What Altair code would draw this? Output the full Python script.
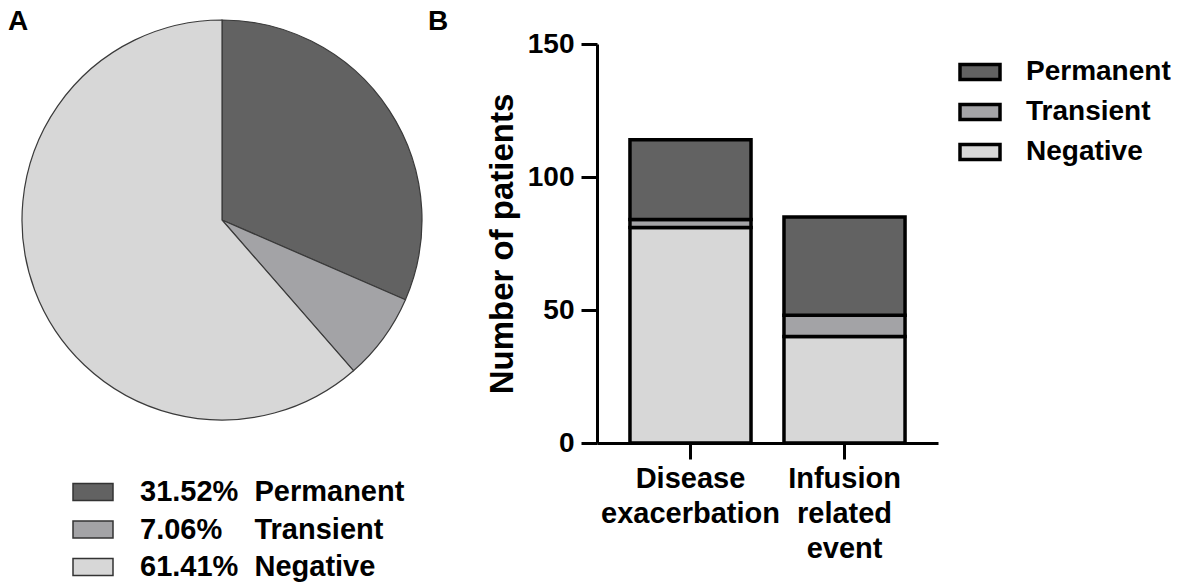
import altair as alt
import pandas as pd

# ---- data ----
pie_status = ["Permanent", "Transient", "Negative"]
pie_percent = [31.52, 7.06, 61.41]
pie_percent_text = ["31.52%", "7.06%", "61.41%"]
pie_gap = ["\u00a0\u00a0", "\u00a0\u00a0\u00a0\u00a0", "\u00a0\u00a0"]

categories = ["Disease exacerbation", "Infusion related event"]
negative = [81, 40]
transient = [3, 8]
permanent = [30, 37]

status_order = ["Permanent", "Transient", "Negative"]
colors = ["#626262", "#a3a3a6", "#d7d7d7"]
FONT = "Liberation Sans"

# ---- pie ----
pie_labels = [p + g + s for p, g, s in zip(pie_percent_text, pie_gap, pie_status)]
pie_df = pd.DataFrame({
    "label": pie_labels,
    "value": pie_percent,
    "ord": list(range(len(pie_status))),
})

pie = alt.Chart(pie_df).mark_arc(radius=200, stroke="#3a3a3a", strokeWidth=1.2).encode(
    theta=alt.Theta("value:Q", stack=True),
    order=alt.Order("ord:Q", sort="ascending"),
    color=alt.Color(
        "label:N",
        scale=alt.Scale(domain=pie_labels, range=colors),
        legend=alt.Legend(
            title=None, orient="none", legendX=64, legendY=427, padding=0,
            labelFontSize=29, labelFontWeight="bold", labelColor="black", labelFont=FONT,
            labelLimit=500, labelOffset=26,
            symbolType="M-1,-0.42L1,-0.42L1,0.42L-1,0.42Z", symbolSize=1600,
            symbolStrokeColor="#333333", symbolStrokeWidth=1.5, symbolOpacity=1,
            rowPadding=1.5,
        ),
    ),
    x=alt.value(214),
    y=alt.value(176),
)

text_a = alt.Chart(pd.DataFrame({"t": ["A"]})).mark_text(
    align="left", baseline="top", fontSize=28, fontWeight="bold", font=FONT, color="black"
).encode(text="t:N", x=alt.value(0), y=alt.value(-36))

pie_layer = alt.layer(pie, text_a).properties(width=428, height=380)

# ---- stacked bars ----
rows = []
for i, c in enumerate(categories):
    rows.append({"category": c, "status": "Negative", "count": negative[i], "so": 0})
    rows.append({"category": c, "status": "Transient", "count": transient[i], "so": 1})
    rows.append({"category": c, "status": "Permanent", "count": permanent[i], "so": 2})
bar_df = pd.DataFrame(rows)

bars = alt.Chart(bar_df).mark_bar(stroke="black", strokeWidth=3.5, strokeJoin="miter").encode(
    x=alt.X(
        "category:N", sort=categories,
        scale=alt.Scale(paddingInner=0.214, paddingOuter=0.214),
        axis=alt.Axis(
            title=None, labelAngle=0, labelExpr="split(datum.label, ' ')",
            labelFontSize=29, labelFontWeight="bold", labelColor="black", labelFont=FONT,
            labelLineHeight=35, labelPadding=5, labelLimit=500,
            tickSize=16, tickWidth=3, tickColor="black",
            domainWidth=3, domainColor="black",
        ),
    ),
    y=alt.Y(
        "count:Q", stack="zero",
        scale=alt.Scale(domain=[0, 150], nice=False),
        axis=alt.Axis(
            title="Number of patients", values=[0, 50, 100, 150], grid=False,
            labelFontSize=28, labelFontWeight="bold", labelColor="black", labelFont=FONT,
            labelPadding=7,
            titleFontSize=33, titleFontWeight="bold", titleColor="black", titleFont=FONT,
            titlePadding=8,
            tickSize=16, tickWidth=3, tickColor="black",
            domainWidth=3, domainColor="black",
        ),
    ),
    color=alt.Color(
        "status:N",
        scale=alt.Scale(domain=status_order, range=colors),
        legend=alt.Legend(
            title=None, orient="none", legendX=361, legendY=6, padding=0,
            labelFontSize=28, labelFontWeight="bold", labelColor="black", labelFont=FONT,
            labelLimit=500, labelOffset=24,
            symbolType="M-1,-0.38L1,-0.38L1,0.38L-1,0.38Z", symbolSize=1600,
            symbolStrokeColor="black", symbolStrokeWidth=3.5, symbolOpacity=1,
            rowPadding=3,
        ),
    ),
    order=alt.Order("so:Q", sort="ascending"),
)

text_b = alt.Chart(pd.DataFrame({"t": ["B"]})).mark_text(
    align="left", baseline="top", fontSize=28, fontWeight="bold", font=FONT, color="black"
).encode(text="t:N", x=alt.value(-169), y=alt.value(-36))

bar_layer = alt.layer(bars, text_b).properties(width=341, height=399)

chart = alt.hconcat(pie_layer, bar_layer, spacing=161, bounds="flush").resolve_scale(
    color="independent"
).properties(padding=0).configure(font=FONT).configure_view(strokeWidth=0)

chart.save("out.html", embed_options={"renderer": "svg", "actions": False})
